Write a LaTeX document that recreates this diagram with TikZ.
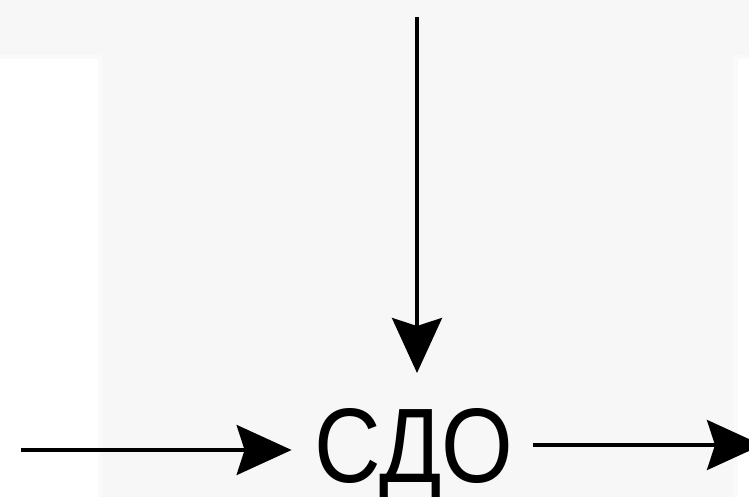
\documentclass[tikz,border=0pt]{standalone}
\usepackage{fontspec}
\setmainfont{Liberation Sans}
\usetikzlibrary{arrows.meta}
\definecolor{bggray}{HTML}{F7F7F7}
\definecolor{edgegray}{HTML}{FAFAFA}
\begin{document}
\begin{tikzpicture}[x=1pt,y=-1pt,
  flow/.style={line width=3.5pt,draw=black,-{Stealth[length=55pt,width=50pt,inset=8pt]}},
  label/.style={inner sep=0pt,outer sep=0pt,font=\fontsize{106}{110}\selectfont}]
  \useasboundingbox (0,0) rectangle (749,497);
  \fill[bggray] (0,0) rectangle (749,497);
  \fill[edgegray] (0,55) rectangle (102,497);
  \fill[white] (0,59) rectangle (98,497);
  \fill[edgegray] (734,55) rectangle (749,497);
  \fill[white] (738,59) rectangle (749,497);
  \node[label,anchor=base,xscale=0.87] (sdo) at (414,482) {СДО};
  \coordinate (top) at (417,17);
  \coordinate (lstart) at (21,450);
  \coordinate (rend) at (762,445);
  \draw[flow,shorten >=35pt] (top) -- (sdo.north -| top);
  \draw[flow,shorten >=23pt] (lstart) -- (sdo.west |- lstart);
  \draw[flow,shorten <=20pt] (sdo.east |- rend) -- (rend);
\end{tikzpicture}
\end{document}
